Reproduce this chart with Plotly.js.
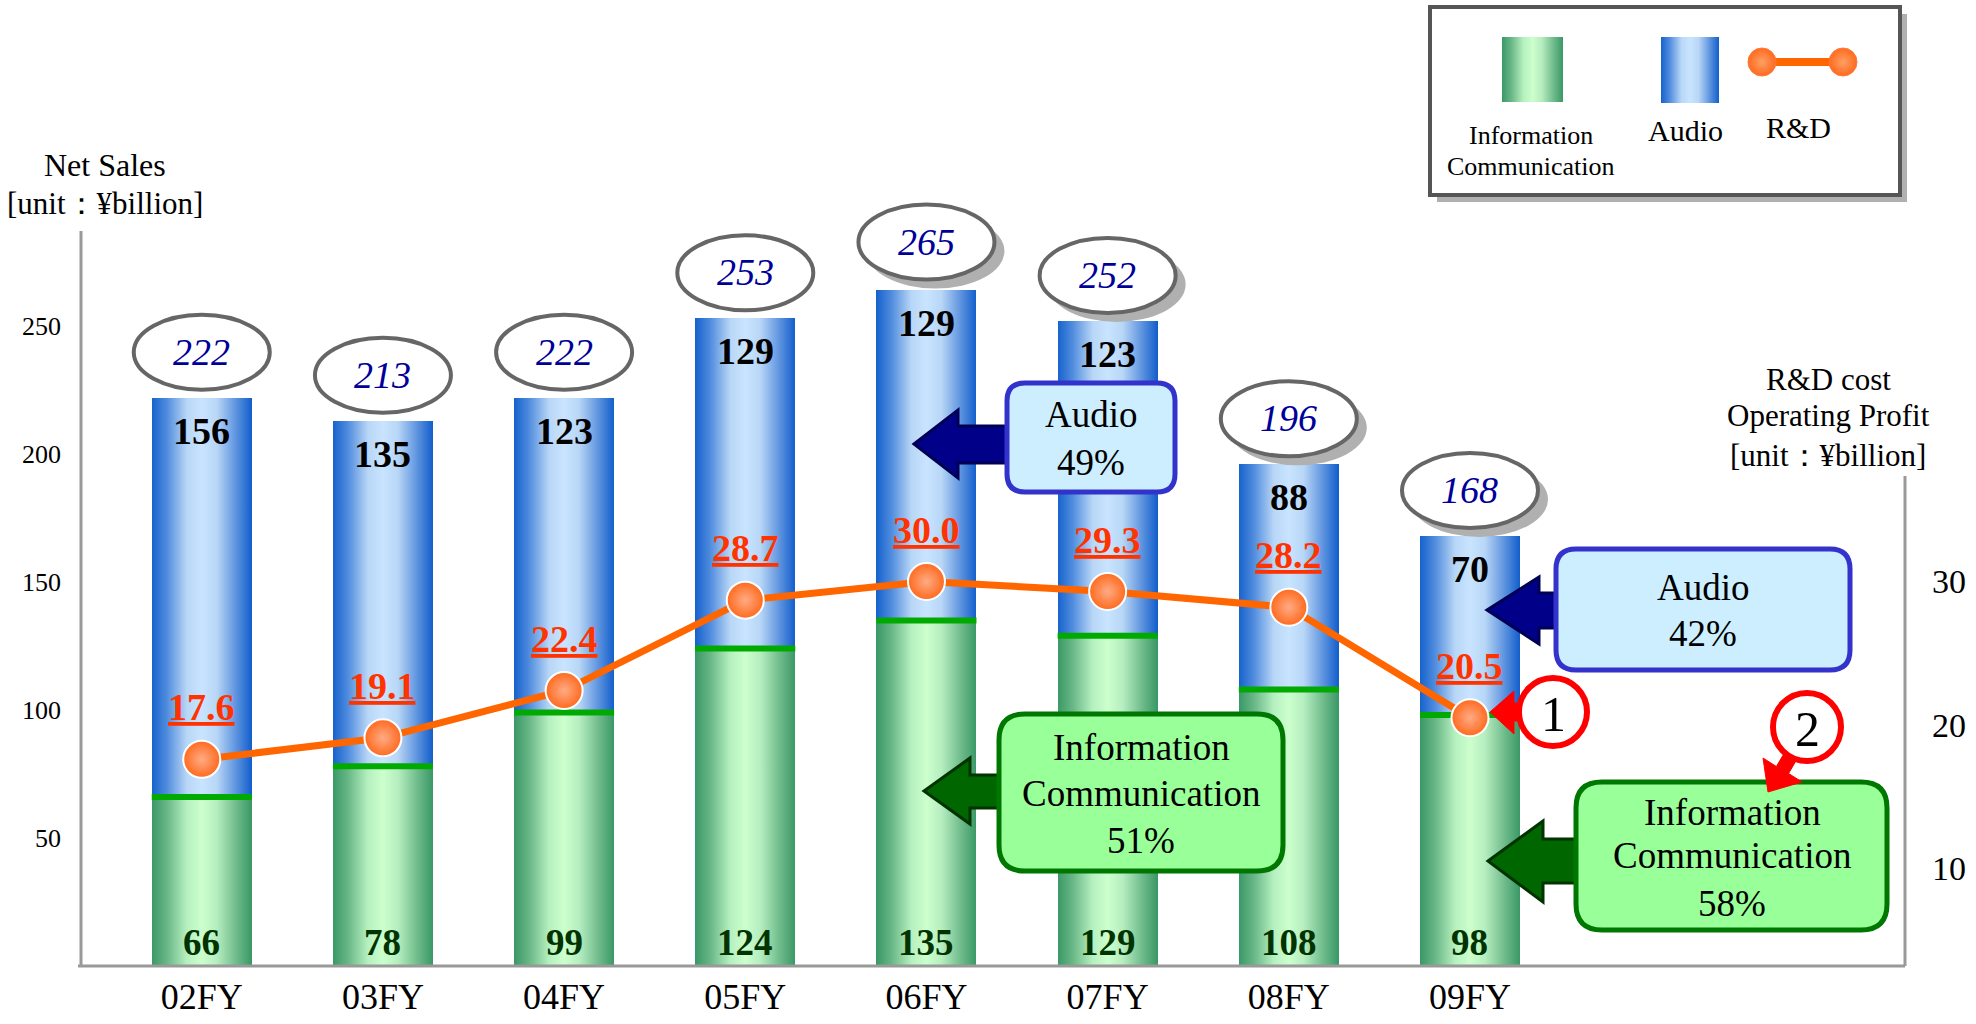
<!DOCTYPE html>
<html><head><meta charset="utf-8">
<script src="https://cdn.plot.ly/plotly-3.0.1.min.js"></script>
<style>html,body{margin:0;padding:0;background:#fff;} #plot{width:1976px;height:1024px;}</style>
</head><body>
<svg width="0" height="0" style="position:absolute">
 <defs>
  <linearGradient id="gBlue" x1="0" y1="0" x2="1" y2="0">
   <stop offset="0" stop-color="rgb(22,98,204)"/>
   <stop offset="0.15" stop-color="rgb(80,140,222)"/>
   <stop offset="0.35" stop-color="rgb(184,214,246)"/>
   <stop offset="0.5" stop-color="rgb(200,228,255)"/>
   <stop offset="0.65" stop-color="rgb(184,214,246)"/>
   <stop offset="0.85" stop-color="rgb(90,145,222)"/>
   <stop offset="1" stop-color="rgb(18,94,204)"/>
  </linearGradient>
  <linearGradient id="gGreen" x1="0" y1="0" x2="1" y2="0">
   <stop offset="0" stop-color="rgb(58,152,102)"/>
   <stop offset="0.15" stop-color="rgb(104,182,134)"/>
   <stop offset="0.35" stop-color="rgb(182,240,192)"/>
   <stop offset="0.5" stop-color="rgb(204,255,204)"/>
   <stop offset="0.65" stop-color="rgb(182,238,192)"/>
   <stop offset="0.85" stop-color="rgb(110,186,138)"/>
   <stop offset="1" stop-color="rgb(58,152,102)"/>
  </linearGradient>
  <radialGradient id="gOrange">
   <stop offset="0" stop-color="rgb(255,160,100)"/>
   <stop offset="1" stop-color="rgb(255,106,30)"/>
  </radialGradient>
 </defs>
</svg>
<div id="plot"></div>
<script>
// ---- data ----
const years = ['02FY','03FY','04FY','05FY','06FY','07FY','08FY','09FY'];
const infoComm = [66,78,99,124,135,129,108,98];
const audio = [156,135,123,129,129,123,88,70];
const netSales = [222,213,222,253,265,252,196,168];
const rdCost = [17.6,19.1,22.4,28.7,30.0,29.3,28.2,20.5];
const leftTicks = [50,100,150,200,250];
const rightTicks = [10,20,30];

// ---- geometry ----
const L=82, R=1905, T=150, B=966;
const X = px => (px-L)/(R-L);
const Y = py => (B-py)/(B-T);
const P = (x,y) => X(x).toFixed(5)+','+Y(y).toFixed(5);
const FONT = '"Liberation Serif", "Times New Roman", Times, serif';
const idx = years.map((_,i)=>i);
const BW = 0.552;

function rrect(x0,y0,x1,y1,r){
  return `M${P(x0+r,y0)} L${P(x1-r,y0)} Q${P(x1,y0)} ${P(x1,y0+r)} L${P(x1,y1-r)} Q${P(x1,y1)} ${P(x1-r,y1)} L${P(x0+r,y1)} Q${P(x0,y1)} ${P(x0,y1-r)} L${P(x0,y0+r)} Q${P(x0,y0)} ${P(x0+r,y0)} Z`;
}
function poly(pts){ return 'M'+pts.map(([x,y])=>P(x,y)).join(' L')+' Z'; }
function pshape(path, fill, line, w){ return {type:'path', xref:'paper', yref:'paper', path, fillcolor:fill, line:{color:line, width:w}, layer:'above'}; }
function prect(x0,y0,x1,y1,fill,line,w){ return {type:'rect', xref:'paper', yref:'paper', x0:X(x0), x1:X(x1), y0:Y(y1), y1:Y(y0), fillcolor:fill, line:{color:line, width:w}, layer:'above'}; }
function pcircle(cx,cy,r,fill,line,w){ return {type:'circle', xref:'paper', yref:'paper', x0:X(cx-r), x1:X(cx+r), y0:Y(cy+r), y1:Y(cy-r), fillcolor:fill, line:{color:line, width:w}, layer:'above'}; }
function pline(x0,y0,x1,y1,color,w){ return {type:'line', xref:'paper', yref:'paper', x0:X(x0), x1:X(x1), y0:Y(y0), y1:Y(y1), line:{color, width:w}, layer:'above'}; }
function ann(text,px,py,size,extra){ return Object.assign({xref:'paper', yref:'paper', x:X(px), y:Y(py), text, showarrow:false, xanchor:'center', yanchor:'middle', font:{family:FONT, size, color:'black'}}, extra||{}); }

// ---- traces ----
const traces = [
  {type:'bar', x:idx, y:infoComm, width:BW, marker:{color:'rgb(58,152,102)', line:{width:0}}, hoverinfo:'skip'},
  {type:'bar', x:idx, y:audio, width:BW, marker:{color:'rgb(22,100,204)', line:{width:0}}, hoverinfo:'skip'},
  {type:'scatter', mode:'lines', x:idx.flatMap(i=>[i-BW/2, i+BW/2, null]), y:infoComm.flatMap(v=>[v, v, null]),
   line:{color:'rgb(0,170,0)', width:6}, hoverinfo:'skip'},
  {type:'scatter', mode:'lines+markers', x:idx, y:rdCost, yaxis:'y2',
   line:{color:'#ff6600', width:7},
   marker:{size:37, color:'#ff6a1e', gradient:{type:'radial', color:'#ffab85'}, line:{color:'white', width:2}}, hoverinfo:'skip'}
];

// ---- shapes ----
const shapes = [];
// axis lines
shapes.push(pline(81,966,81,231,'#999999',3));
shapes.push(pline(1905,966,1905,476,'#999999',3));
shapes.push(pline(78,966,1905,966,'#999999',3));
// ellipses around totals
idx.forEach(i=>{
  if(i>=4) shapes.push({type:'circle', xref:'x', yref:'y', xsizemode:'pixel', ysizemode:'pixel', xanchor:i, yanchor:netSales[i],
     x0:-60, x1:78, y0:-1, y1:74, fillcolor:'#b0b0b0', line:{width:0}, layer:'above'});
  shapes.push({type:'circle', xref:'x', yref:'y', xsizemode:'pixel', ysizemode:'pixel', xanchor:i, yanchor:netSales[i],
     x0:-68, x1:68, y0:8, y1:83, fillcolor:'white', line:{color:'#666666', width:4}, layer:'above'});
});
// legend
shapes.push(prect(1437,14,1907,202,'#b0b0b0','#b0b0b0',0));
shapes.push(prect(1430,7,1900,195,'white','#555555',4));
shapes.push(prect(1502,37,1563,102,'rgb(58,152,101)','rgb(58,152,101)',0));
shapes.push(prect(1661,37,1719,103,'rgb(22,100,203)','rgb(22,100,203)',0));
shapes.push(pline(1770,62,1835,62,'#ff6600',8));
shapes.push(pcircle(1762,62,14,'rgb(255,106,31)','rgb(255,120,60)',1));
shapes.push(pcircle(1843,62,14,'rgb(255,106,31)','rgb(255,120,60)',1));
// callout: Audio 49%
shapes.push(pshape(poly([[914,444],[958,410],[958,426],[1012,426],[1012,463],[958,463],[958,478]]),'#000088','#000055',3));
shapes.push(pshape(rrect(1007,383,1175,492,18),'#cceeff','#3333cc',5));
// callout: Information Communication 51%
shapes.push(pshape(poly([[924,791],[970,758],[970,775],[1004,775],[1004,808],[970,808],[970,824]]),'#006600','#003300',3));
shapes.push(pshape(rrect(999,714,1283,871,26),'#99ff99','#007700',5));
// callout: Audio 42%
shapes.push(pshape(poly([[1487,610],[1539,577],[1539,593],[1560,593],[1560,628],[1539,628],[1539,644]]),'#000088','#000055',3));
shapes.push(pshape(rrect(1556,549,1850,670,20),'#cceeff','#3333cc',5));
// callout: Information Communication 58%
shapes.push(pshape(poly([[1488,861],[1543,821],[1543,839],[1582,839],[1582,883],[1543,883],[1543,902]]),'#006600','#003300',3));
shapes.push(pshape(rrect(1576,782,1887,930,26),'#99ff99','#007700',5));
// circled numbers with red arrows
shapes.push(pshape(poly([[1490,712],[1514,691],[1514,703],[1524,703],[1524,721],[1514,721],[1514,734]]),'#ff0000','#ff0000',1));
shapes.push(pcircle(1553,712,34,'white','#ff0000',6));
shapes.push(pshape(poly([[1768,792],[1802,782],[1788.6,773.5],[1806,743.5],[1794,736.5],[1776.4,766.5],[1763,758]]),'#ff0000','#ff0000',1));
shapes.push(pcircle(1807,727,34,'white','#ff0000',6));

// ---- annotations ----
const annotations = [];
idx.forEach(i=>{
  annotations.push({x:i, y:netSales[i], xref:'x', yref:'y', yshift:46, showarrow:false,
    text:'<i>'+netSales[i]+'</i>', font:{family:FONT, size:38, color:'#000099'}});
  annotations.push({x:i, y:infoComm[i]+audio[i], xref:'x', yref:'y', yshift:-33, showarrow:false,
    text:'<b>'+audio[i]+'</b>', font:{family:FONT, size:38, color:'black'}});
  annotations.push({x:i, y:0, xref:'x', yref:'y', yshift:24, showarrow:false,
    text:'<b>'+infoComm[i]+'</b>', font:{family:FONT, size:37, color:'#003300'}});
  annotations.push({x:i, y:rdCost[i], xref:'x', yref:'y2', yshift:52, showarrow:false,
    text:'<b>'+rdCost[i].toFixed(1)+'</b>', font:{family:FONT, size:38, color:'#ff3300', lineposition:'under'}});
});
// axis titles
annotations.push(ann('Net Sales',105,165,32));
annotations.push(ann('[unit：¥billion]',105,203,31));
annotations.push(ann('R&amp;D cost',1828,379,31));
annotations.push(ann('Operating Profit',1828,416,31));
annotations.push(ann('[unit：¥billion]',1828,455,31));
// legend texts
annotations.push(ann('Information',1531,135,26));
annotations.push(ann('Communication',1531,166,26));
annotations.push(ann('Audio',1685,130,30));
annotations.push(ann('R&amp;D',1798,127,30));
// callout texts
annotations.push(ann('Audio',1091,415,37));
annotations.push(ann('49%',1091,462,37));
annotations.push(ann('Information',1141,747,37));
annotations.push(ann('Communication',1141,793,37));
annotations.push(ann('51%',1141,840,37));
annotations.push(ann('Audio',1703,587,37));
annotations.push(ann('42%',1703,633,37));
annotations.push(ann('Information',1732,812,37));
annotations.push(ann('Communication',1732,855,37));
annotations.push(ann('58%',1732,903,37));
annotations.push(ann('1',1553,714,50));
annotations.push(ann('2',1807,729,50));

const layout = {
  width:1976, height:1024, margin:{l:L, r:1976-R, t:T, b:1024-B, pad:0},
  paper_bgcolor:'white', plot_bgcolor:'rgba(0,0,0,0)',
  barmode:'stack', showlegend:false, hovermode:false,
  font:{family:FONT, color:'black'},
  xaxis:{range:[-0.661,9.401], tickmode:'array', tickvals:idx, ticktext:years, showgrid:false, zeroline:false, showline:false,
         ticks:'', tickfont:{family:FONT, size:36, color:'black'}, ticklabelstandoff:6, fixedrange:true},
  yaxis:{range:[0,318.75], tickmode:'array', tickvals:leftTicks, showgrid:false, zeroline:false, showline:false,
         ticks:'', tickfont:{family:FONT, size:26, color:'black'}, ticklabelstandoff:20, fixedrange:true},
  yaxis2:{overlaying:'y', side:'right', range:[3.19,60.09], tickmode:'array', tickvals:rightTicks, showgrid:false, zeroline:false, showline:false,
         ticks:'', tickfont:{family:FONT, size:34, color:'black'}, ticklabelstandoff:26, fixedrange:true},
  shapes, annotations
};

Plotly.newPlot('plot', traces, layout, {staticPlot:true, displayModeBar:false}).then(gd=>{
  const tr = gd.querySelectorAll('.barlayer .trace');
  if(tr[0]) tr[0].querySelectorAll('path').forEach(p=>p.style.fill='url(#gGreen)');
  if(tr[1]) tr[1].querySelectorAll('path').forEach(p=>p.style.fill='url(#gBlue)');
  const norm = s => (s||'').replace(/\s/g,'');
  gd.querySelectorAll('.shapelayer path').forEach(p=>{
    const f = norm(p.style.fill);
    if(f==='rgb(58,152,101)') p.style.fill='url(#gGreen)';
    else if(f==='rgb(22,100,203)') p.style.fill='url(#gBlue)';
    else if(f==='rgb(255,106,31)') p.style.fill='url(#gOrange)';
  });
});
</script>
</body></html>
